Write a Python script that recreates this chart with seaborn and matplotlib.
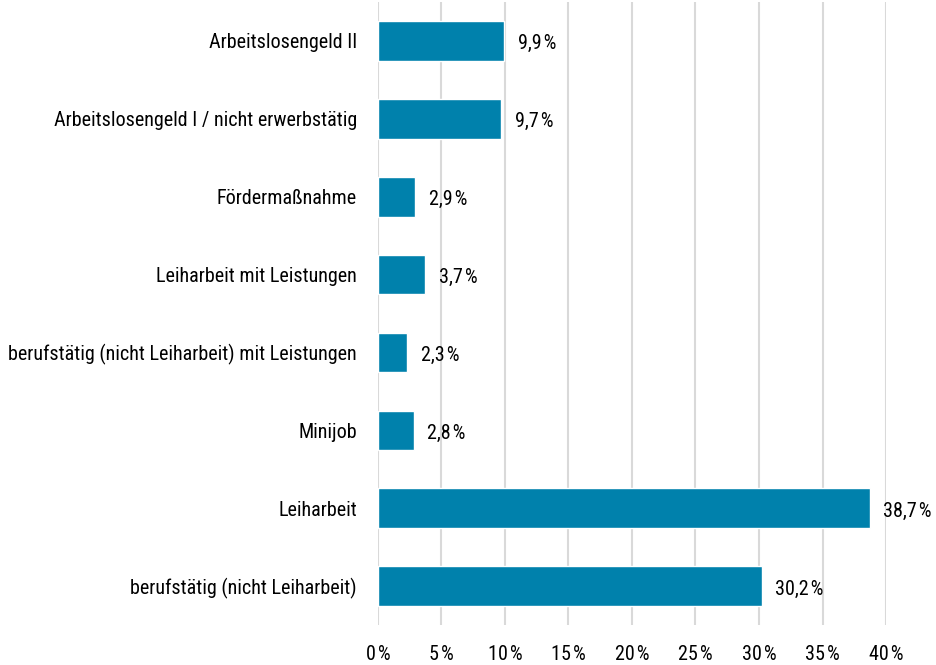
import matplotlib
matplotlib.use("Agg")
import matplotlib.pyplot as plt
import seaborn as sns
import pandas as pd

# Data (top to bottom as shown)
categories = [
    "Arbeitslosengeld II",
    "Arbeitslosengeld I / nicht erwerbstätig",
    "Fördermaßnahme",
    "Leiharbeit mit Leistungen",
    "berufstätig (nicht Leiharbeit) mit Leistungen",
    "Minijob",
    "Leiharbeit",
    "berufstätig (nicht Leiharbeit)",
]
values = [9.9, 9.7, 2.9, 3.7, 2.3, 2.8, 38.7, 30.2]
x_ticks = [0, 5, 10, 15, 20, 25, 30, 35, 40]

df = pd.DataFrame({"Kategorie": categories, "Anteil": values})

sns.set_theme(style="white")
plt.rcParams["font.family"] = ["Roboto Condensed", "DejaVu Sans"]

fig = plt.figure(figsize=(9.36, 6.65), dpi=100)
ax = fig.add_axes([0.4038, 0.060, 0.5428, 0.937])

sns.barplot(data=df, x="Anteil", y="Kategorie", color="#0081AC",
            saturation=1, width=0.51, ax=ax, zorder=3)

ax.set_xlim(0, 40)
ax.set_xticks(x_ticks)
ax.set_xticklabels([f"{t}\u200a%" for t in x_ticks])
ax.grid(axis="x", color="#d9d9d9", linewidth=1.5, zorder=0)
ax.grid(axis="y", visible=False)
for s in ax.spines.values():
    s.set_visible(False)
ax.set_xlabel("")
ax.set_ylabel("")
ax.tick_params(axis="y", length=0, pad=15, labelsize=14.5, labelcolor="black")
ax.tick_params(axis="x", length=0, pad=14, labelsize=14.5, labelcolor="black")

# value labels
for i, v in enumerate(values):
    ax.annotate(f"{v:.1f}".replace(".", ",") + "\u200a%", xy=(v, i),
                xytext=(10, -2), textcoords="offset points",
                va="center", ha="left", fontsize=14.5, color="black")

fig.savefig("out.png", dpi=100)
